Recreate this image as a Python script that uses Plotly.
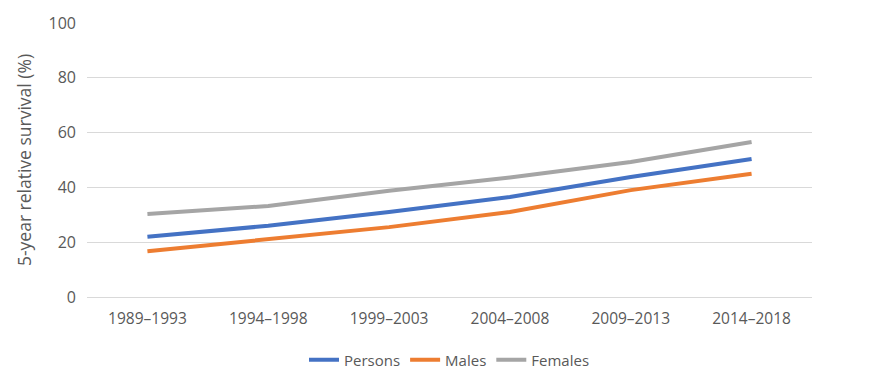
import plotly.graph_objects as go

periods = ["1989–1993", "1994–1998", "1999–2003", "2004–2008", "2009–2013", "2014–2018"]
persons = [22.0, 26.0, 31.0, 36.5, 43.8, 50.4]
males = [16.7, 21.0, 25.5, 31.0, 39.0, 45.0]
females = [30.3, 33.2, 38.8, 43.6, 49.3, 56.6]

fig = go.Figure()
for name, vals, col in [("Persons", persons, "#4472C4"), ("Males", males, "#ED7D31"), ("Females", females, "#A5A5A5")]:
    fig.add_trace(go.Scatter(x=periods, y=vals, name=name, mode="lines",
                             line=dict(color=col, width=4)))

fig.update_layout(
    width=876, height=371,
    paper_bgcolor="white", plot_bgcolor="white",
    margin=dict(l=79, r=72, t=15, b=82, autoexpand=False),
    font=dict(family="Open Sans, DejaVu Sans, sans-serif", size=16, color="#595959"),
    showlegend=True,
    legend=dict(orientation="h", x=0.5, xanchor="center", y=-0.17, yanchor="top",
                font=dict(size=15, color="#595959"), itemwidth=30, tracegroupgap=0),
    xaxis=dict(showgrid=False, showline=False, ticks="", range=[-0.5, 5.5],
               tickfont=dict(size=15.5), ticklabelstandoff=10, automargin=False),
    yaxis=dict(range=[0, 100], tickvals=[0, 20, 40, 60, 80, 100], showgrid=True,
               gridcolor="#D9D9D9", gridwidth=1.3,
               zeroline=True, zerolinecolor="#D9D9D9", zerolinewidth=1.3,
               ticks="", tickfont=dict(size=16), ticklabelstandoff=10, automargin=False,
               title=dict(text="5-year relative survival (%)", font=dict(size=17.5), standoff=12)),
)
fig.write_html("out.html")
